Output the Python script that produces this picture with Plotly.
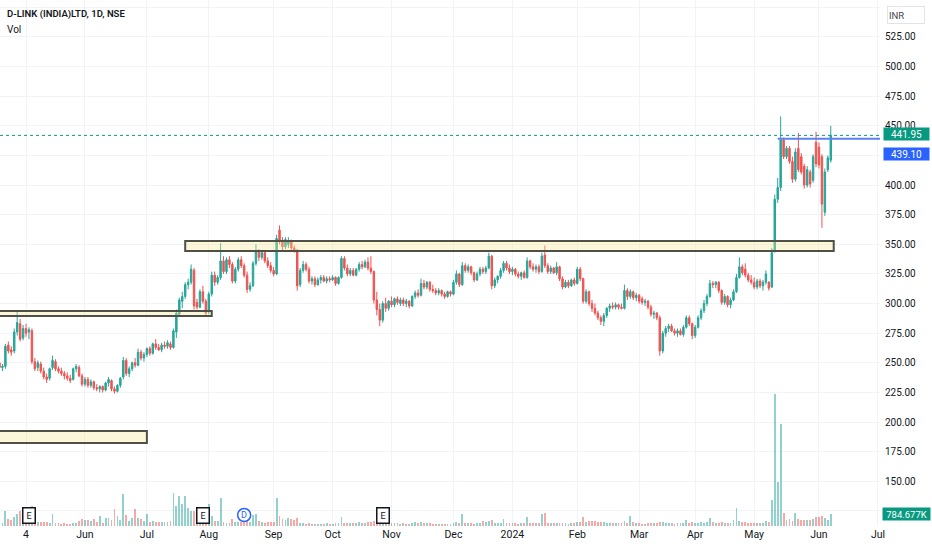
import pandas as pd
import plotly.graph_objects as go

# ---------------- data ----------------
title_text = "D-LINK (INDIA)LTD, 1D, NSE"
first_bar = "2023-04-20"
last_bar = "2024-06-07"

nse_holidays = ["2023-03-07", "2023-03-30", "2023-04-04", "2023-04-07", "2023-04-14",
                "2023-05-01", "2023-06-29", "2023-08-15", "2023-09-19", "2023-10-02",
                "2023-10-24", "2023-11-14", "2023-11-27", "2023-12-25", "2024-01-22",
                "2024-01-26", "2024-03-08", "2024-03-25", "2024-03-29", "2024-04-11",
                "2024-04-17", "2024-05-01", "2024-05-20"]
special_sessions = ["2023-11-12", "2024-01-20", "2024-03-02", "2024-05-18"]

open_ = [250,246,247,265,261,260,276,283,271,279,
         276,277,251,246,249,243,238,237,246,251,
         245,243,241,239,237,236,245,246,239,232,
         236,231,234,229,228,230,227,233,235,228,
         226,231,238,252,241,245,250,248,259,254,
         257,262,258,266,263,261,265,264,266,263,
         276,291,302,306,316,318,328,301,297,310,
         302,293,308,324,318,322,336,327,337,333,
         319,329,337,332,324,312,315,334,344,339,
         343,336,332,328,325,362,353,348,350,353,
         347,345,316,328,333,329,319,321,316,320,
         322,319,321,320,322,317,322,338,330,325,
         328,324,329,333,331,335,330,327,303,295,
         286,300,296,302,299,304,300,303,300,302,
         298,306,309,307,317,314,318,312,311,309,
         311,308,306,310,308,318,325,316,332,328,
         331,326,320,325,329,327,330,340,315,320,
         323,328,334,330,327,329,325,323,326,322,
         336,331,329,331,327,341,332,327,330,326,
         331,321,314,318,315,320,317,329,321,302,
         310,300,296,292,288,285,290,296,298,297,
         299,297,296,311,306,310,305,307,304,301,
         302,297,291,292,288,260,275,279,281,277,
         275,277,274,280,288,283,273,280,288,294,
         300,306,317,316,318,311,301,306,299,303,
         310,322,331,329,324,320,318,314,319,315,
         318,318,314,345,388,398,438,424,431,420,
         405,431,424,416,400,411,404,436,432,424,
         377,413,421]

high = [252,249,266,268,264,279,293,287,282,283,
        280,279,254,252,251,246,241,246,256,253,
        247,246,243,242,240,246,249,248,241,238,
        238,236,235,232,231,231,234,238,236,230,
        232,238,255,254,247,251,254,262,261,259,
        263,264,267,270,266,267,268,269,268,279,
        295,305,310,318,321,333,330,304,312,315,
        304,310,327,327,324,351,340,339,340,335,
        331,339,340,334,327,318,336,350,346,345,
        344,339,335,331,358,366,356,356,356,354,
        349,346,330,336,335,331,323,323,322,324,
        324,323,323,324,323,323,340,340,333,330,
        330,330,335,336,337,339,340,328,310,300,
        302,305,303,306,305,306,305,305,304,303,
        307,311,312,321,320,319,319,316,313,313,
        312,310,311,311,320,328,326,335,334,333,
        332,327,327,331,331,332,343,341,322,324,
        330,336,336,333,331,330,327,327,328,339,
        337,334,333,333,343,349,334,332,331,335,
        332,323,320,320,321,322,331,331,322,312,
        311,303,300,294,290,292,297,300,301,301,
        300,300,316,313,312,311,309,308,306,304,
        303,299,294,293,290,277,281,283,283,279,
        279,279,282,290,290,284,282,290,296,303,
        308,320,319,319,319,312,308,307,305,312,
        325,339,333,334,326,324,322,321,321,320,
        328,319,347,392,406,458,440,433,433,424,
        431,444,427,418,416,413,426,445,436,426,
        414,425,450]

low = [244,243,245,258,256,258,273,268,269,272,
       270,249,243,243,241,236,233,235,244,243,
       241,239,236,235,233,235,242,238,230,230,
       229,229,227,226,225,225,226,230,226,224,
       225,229,236,239,238,243,246,247,252,251,
       255,256,257,261,260,259,262,262,261,262,
       271,289,296,304,312,316,295,295,296,300,
       289,291,306,315,316,320,325,325,330,317,
       317,327,330,322,309,310,314,332,336,337,
       334,330,326,323,324,350,345,346,347,345,
       343,311,314,326,327,317,316,314,315,317,
       318,317,318,319,315,316,321,328,323,323,
       323,323,327,329,330,328,325,300,290,281,
       284,293,294,297,297,299,298,298,297,296,
       297,304,305,306,312,312,310,309,307,307,
       306,304,305,306,307,316,314,315,326,326,
       324,318,319,323,325,325,329,312,313,317,
       321,326,328,325,324,323,321,320,321,321,
       329,327,326,325,326,330,325,325,325,324,
       319,312,313,313,314,315,316,319,300,300,
       298,293,290,286,282,281,288,293,295,295,
       295,295,295,303,304,303,302,300,299,298,
       295,289,287,286,256,258,272,276,276,273,
       272,273,272,279,281,270,271,279,286,292,
       298,305,313,313,309,299,299,297,296,302,
       309,321,324,322,318,316,312,312,313,311,
       316,311,313,343,385,395,422,422,418,402,
       403,411,409,397,398,398,402,415,414,364,
       374,411,419]

close = [246,247,264,260,259,276,284,270,279,275,
         278,251,245,250,243,238,236,245,252,245,
         243,241,239,237,235,245,247,239,232,236,
         231,234,229,228,230,227,233,236,228,226,
         231,237,252,241,245,250,248,259,254,257,
         262,258,266,263,261,265,264,267,263,277,
         292,303,306,316,318,329,298,297,310,302,
         292,308,324,318,322,336,327,337,333,319,
         329,337,332,324,312,315,334,344,339,343,
         336,332,328,325,355,353,348,354,353,347,
         345,315,328,333,329,319,321,316,320,322,
         319,321,320,322,317,322,338,330,325,328,
         324,329,333,331,335,330,327,303,295,286,
         300,296,302,299,304,301,303,300,302,298,
         306,309,307,317,314,318,312,311,309,311,
         308,306,310,308,318,325,316,332,328,331,
         326,320,325,329,327,330,340,315,320,323,
         328,334,330,327,329,325,323,326,322,336,
         331,329,331,327,340,332,327,330,326,331,
         321,314,318,315,320,317,329,321,302,310,
         300,296,292,288,285,290,296,298,297,299,
         297,296,311,306,310,305,307,302,301,302,
         297,291,292,288,260,275,279,281,277,275,
         277,274,280,288,283,273,280,288,294,300,
         306,317,316,318,311,301,306,299,303,310,
         322,331,326,324,320,318,314,319,315,318,
         325,313,343,388,398,438,424,431,420,405,
         428,413,411,400,413,401,424,418,417,384,
         411,423,441.95]

volume_k = [180,200,980,450,420,600,780,980,300,260,
            280,1300,300,250,240,260,230,200,780,200,
            180,160,170,150,160,190,170,330,450,380,
            420,350,480,260,650,220,500,520,400,1100,
            650,400,2100,720,350,500,1100,520,480,300,
            780,260,300,250,240,280,230,260,300,2150,
            1300,1950,1430,1950,1170,980,1000,900,700,650,
            600,1430,650,320,330,1820,250,200,220,450,
            260,280,240,300,350,260,720,760,300,250,
            220,260,240,230,1820,650,480,420,500,450,
            400,520,200,180,160,170,150,140,160,150,
            140,170,150,160,180,190,590,220,200,180,
            170,200,240,220,210,230,260,300,280,260,
            230,210,200,190,180,170,160,170,160,150,
            200,240,180,260,190,200,170,160,150,160,
            150,140,160,150,200,230,180,780,200,190,
            170,160,180,200,320,230,300,400,220,190,
            200,450,200,180,190,170,160,180,190,580,
            220,200,190,210,780,850,220,190,170,200,
            180,170,190,160,180,170,230,250,580,260,
            300,320,300,280,260,230,200,190,180,170,
            190,180,300,220,650,240,180,170,160,150,
            180,200,170,190,240,260,200,180,170,160,
            180,170,200,390,220,230,210,200,240,220,
            260,520,230,200,210,240,200,190,210,390,
            1170,300,260,240,220,200,210,190,200,220,
            300,240,1700,8600,2870,6650,850,420,480,330,
            850,450,380,400,360,420,455,585,600,650,
            500,390,784.677]

tick_dates = ["2023-05-04", "2023-06-01", "2023-07-03", "2023-08-01", "2023-09-01",
              "2023-10-03", "2023-11-01", "2023-12-01", "2024-01-01", "2024-02-01",
              "2024-03-01", "2024-04-01", "2024-05-02", "2024-06-03", "2024-07-01"]
tick_labels = ["4", "Jun", "Jul", "Aug", "Sep", "Oct", "Nov", "Dec", "2024",
               "Feb", "Mar", "Apr", "May", "Jun", "Jul"]

zone_start = ["2023-03-15", "2023-07-20", "2023-03-15"]
zone_end = ["2023-08-02", "2024-06-10", "2023-07-03"]
zone_low = [289.6, 344.4, 182.4]
zone_high = [293.8, 352.8, 192.5]

earnings_dates = ["2023-05-05", "2023-07-28", "2023-10-27"]
dividend_dates = ["2023-08-18"]

level_price = 439.10
level_start = "2024-05-14"

price_ticks = list(range(125, 551, 25))
hidden_price_labels = [125, 425, 550]   # covered by the axis badges in the reference

# ---------------- trading calendar ----------------
past = pd.bdate_range("2023-03-01", last_bar)
past = past.difference(pd.to_datetime(nse_holidays)).union(pd.to_datetime(special_sessions))
future = pd.bdate_range(pd.Timestamp(last_bar) + pd.Timedelta(days=1), "2024-07-10")
calendar = list(past) + list(future)
base = calendar.index(pd.Timestamp(first_bar))
pos = {d.strftime("%Y-%m-%d"): i - base for i, d in enumerate(calendar)}

xs = list(range(len(close)))

UP = "#26a69a"
DN = "#ef5350"
UP_DARK = "#089981"
BLUE = "#2962ff"
TXT = "#131722"
GRID = "#f0f3fa"
FONT = "Roboto, 'Noto Sans', sans-serif"

X_RANGE = [0.17, 298.7]
Y_RANGE = [112.3, 556.2]
VOL_TOP = max(volume_k) * 526 / 132

vol_colors = ["rgba(38,166,154,0.5)" if c >= o else "rgba(239,83,80,0.5)"
              for o, c in zip(open_, close)]

fig = go.Figure()
fig.add_trace(go.Bar(x=xs, y=volume_k, yaxis="y2", marker_color=vol_colors,
                     marker_line_width=0, width=0.62, hoverinfo="skip", showlegend=False))
fig.add_trace(go.Candlestick(
    x=xs, open=open_, high=high, low=low, close=close,
    increasing=dict(line=dict(color=UP, width=1), fillcolor=UP),
    decreasing=dict(line=dict(color=DN, width=1), fillcolor=DN),
    whiskerwidth=0, showlegend=False, hoverinfo="skip"))

shapes = []
for s, e, lo, hi in zip(zone_start, zone_end, zone_low, zone_high):
    x0 = pos.get(s, -30)
    shapes.append(dict(type="rect", xref="x", yref="y", x0=x0, x1=pos[e], y0=lo, y1=hi,
                       fillcolor="rgba(250,232,150,0.35)",
                       line=dict(color="#505046", width=2), layer="above"))
shapes.append(dict(type="line", xref="paper", yref="y", x0=0, x1=1,
                   y0=close[-1], y1=close[-1], line=dict(color=UP_DARK, width=1, dash="dot")))
shapes.append(dict(type="line", xref="x", yref="y", x0=pos[level_start], x1=X_RANGE[1],
                   y0=level_price, y1=level_price, line=dict(color="#5b80f5", width=2)))
for d in dividend_dates:
    shapes.append(dict(type="circle", xref="x", yref="paper", xsizemode="pixel",
                       ysizemode="pixel", xanchor=pos[d], yanchor=11 / 526,
                       x0=-6.5, x1=6.5, y0=-6.5, y1=6.5,
                       line=dict(color=BLUE, width=1.5), fillcolor="white"))

LABEL_FONT = dict(family=FONT, size=10, color="white")
ann = []
ann.append(dict(text=title_text, xref="paper", yref="paper", x=0, y=1, xanchor="left",
                yanchor="top", xshift=5, yshift=-6, showarrow=False,
                font=dict(family=FONT, size=9.5, color=TXT, weight=600)))
ann.append(dict(text="Vol", xref="paper", yref="paper", x=0, y=1, xanchor="left",
                yanchor="top", xshift=5, yshift=-22, showarrow=False,
                font=dict(family=FONT, size=10, color=TXT)))
for d in earnings_dates:
    ann.append(dict(text="E", xref="x", yref="paper", x=pos[d], y=11 / 526, showarrow=False,
                    yanchor="middle", font=dict(family=FONT, size=9, color=TXT),
                    bordercolor=TXT, borderwidth=1.5, borderpad=1.5, bgcolor="white",
                    width=8, height=11))
for d in dividend_dates:
    ann.append(dict(text="D", xref="x", yref="paper", x=pos[d], y=11 / 526, showarrow=False,
                    yanchor="middle", font=dict(family=FONT, size=9, color=BLUE)))
ann.append(dict(text="%.2f" % close[-1], xref="paper", yref="y", x=1, y=close[-1],
                xanchor="left", xshift=3, yshift=1, showarrow=False, bgcolor=UP_DARK,
                font=LABEL_FONT, borderpad=0, width=45, height=12))
ann.append(dict(text="%.2f" % level_price, xref="paper", yref="y", x=1, y=level_price,
                xanchor="left", xshift=3, yshift=-15, showarrow=False, bgcolor=BLUE,
                font=LABEL_FONT, borderpad=0, width=45, height=12))
ann.append(dict(text="%.3fK" % volume_k[-1], xref="paper", yref="y2", x=1, y=volume_k[-1],
                xanchor="left", xshift=2, showarrow=False, bgcolor=UP_DARK,
                font=dict(family=FONT, size=9.5, color="white"), borderpad=0,
                width=47, height=12))
ann.append(dict(text="INR", xref="paper", yref="paper", x=1, y=1, xanchor="left", yanchor="top",
                xshift=7, yshift=-6, showarrow=False, align="left", width=34, height=14,
                bordercolor="#e0e3eb", borderwidth=1, borderpad=1,
                font=dict(family=FONT, size=9.5, color="#434651")))

fig.update_layout(
    width=932, height=550,
    margin=dict(l=0, r=52, t=0, b=24),
    paper_bgcolor="white", plot_bgcolor="white",
    shapes=shapes, annotations=ann,
    showlegend=False,
    xaxis=dict(range=X_RANGE, tickmode="array", tickvals=[pos[d] for d in tick_dates],
               ticktext=tick_labels, showgrid=True, gridcolor=GRID, zeroline=False,
               showline=False, ticks="", rangeslider=dict(visible=False),
               tickfont=dict(family=FONT, size=10.5, color=TXT)),
    yaxis=dict(range=Y_RANGE, side="right", tickmode="array", tickvals=price_ticks,
               ticktext=["" if v in hidden_price_labels else "%.2f" % v for v in price_ticks],
               showgrid=True, gridcolor=GRID, zeroline=False, showline=False, ticks="",
               ticklabelstandoff=4, tickfont=dict(family=FONT, size=10, color=TXT)),
    yaxis2=dict(range=[0, VOL_TOP], overlaying="y", visible=False),
    bargap=0,
)

fig.write_html("out.html", config={"displayModeBar": False},
               post_script="document.body.style.margin='0';document.body.style.overflow='hidden';")
